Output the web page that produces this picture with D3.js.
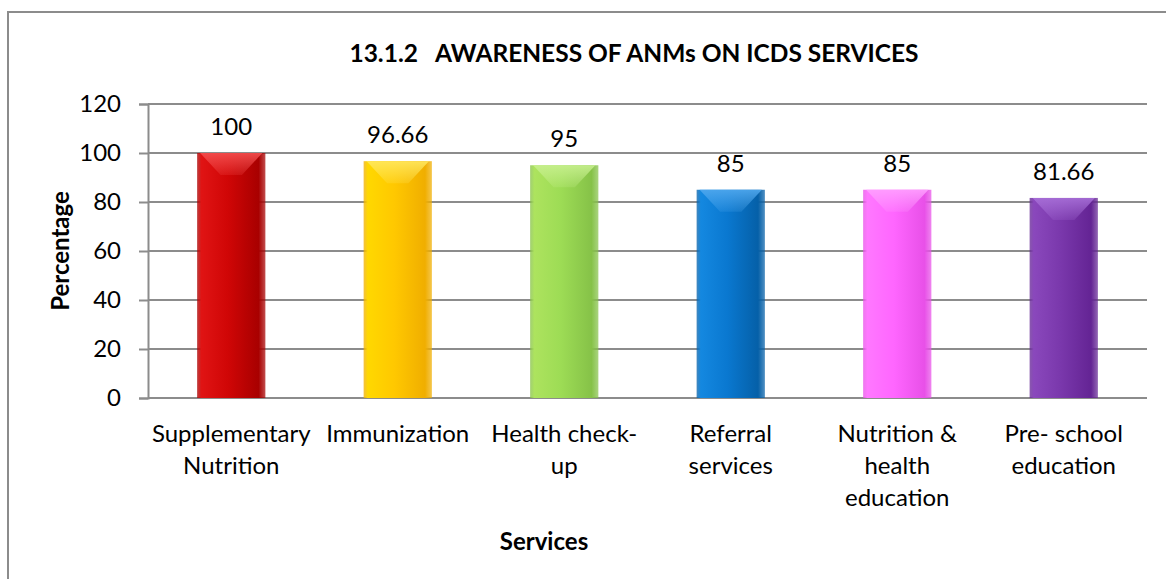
<!DOCTYPE html>
<html>
<head>
<meta charset="utf-8">
<script src="https://cdn.jsdelivr.net/npm/d3@7"></script>
<style>
  body { margin: 0; background: #fff; }
  text { font-family: Lato, "Open Sans", sans-serif; fill: #000; }
</style>
</head>
<body>
<div id="chart"></div>
<script>
// data
var categories = ["Supplementary\nNutrition", "Immunization", "Health check-\nup", "Referral\nservices", "Nutrition &\nhealth\neducation", "Pre- school\neducation"];
var values = [100, 96.66, 95, 85, 85, 81.66];
var valueLabels = ["100", "96.66", "95", "85", "85", "81.66"];
var yTicks = [0, 20, 40, 60, 80, 100, 120];
var barColors = [
  ["#e01414", "#d00606", "#a80000", "#f45050"],
  ["#ffd800", "#ffc800", "#f0ae00", "#ffe860"],
  ["#ade35e", "#9ddc55", "#86c248", "#c8f090"],
  ["#1488e0", "#0a78d0", "#0560a8", "#50a8ee"],
  ["#ff78ff", "#ff66ff", "#e850e8", "#ffa0ff"],
  ["#8a48bc", "#7a38ac", "#642494", "#a870d8"]
];

var W = 1166, H = 579;
var svg = d3.select('#chart').append('svg')
  .attr('width', W)
  .attr('height', H);

// moldura
svg.append('rect')
  .attr('x', 8).attr('y', 12)
  .attr('width', 1200).attr('height', 600)
  .attr('fill', 'none')
  .attr('stroke', '#8c8c8c')
  .attr('stroke-width', 2);

var plotLeft = 148, plotRight = 1147, plotTop = 104, plotBottom = 398;

var x = d3.scaleBand().domain(d3.range(categories.length)).range([plotLeft, plotRight]).paddingInner(0.59).paddingOuter(0.295);
var y = d3.scaleLinear().domain([0, 120]).range([plotBottom, plotTop]);

// gradientes
var defs = svg.append('defs');
barColors.forEach(function(c, i) {
  var g = defs.append('linearGradient').attr('id', 'g' + i).attr('x1', 0).attr('x2', 1).attr('y1', 0).attr('y2', 0);
  g.append('stop').attr('offset', '0%').attr('stop-color', c[2]).attr('stop-opacity', 0.75);
  g.append('stop').attr('offset', '6%').attr('stop-color', c[0]);
  g.append('stop').attr('offset', '45%').attr('stop-color', c[1]);
  g.append('stop').attr('offset', '90%').attr('stop-color', c[2]);
  g.append('stop').attr('offset', '100%').attr('stop-color', c[2]).attr('stop-opacity', 0.7);
  var h = defs.append('linearGradient').attr('id', 'h' + i).attr('x1', 0).attr('x2', 0).attr('y1', 0).attr('y2', 1);
  h.append('stop').attr('offset', '0%').attr('stop-color', c[3]).attr('stop-opacity', 0.9);
  h.append('stop').attr('offset', '100%').attr('stop-color', c[3]).attr('stop-opacity', 0.2);
});

// grade
svg.append('g')
  .selectAll('line').data(yTicks).join('line')
  .attr('x1', plotLeft).attr('x2', plotRight)
  .attr('y1', function(d) { return y(d); })
  .attr('y2', function(d) { return y(d); })
  .attr('stroke', '#8c8c8c')
  .attr('stroke-width', 2);

// eixo y
var yAxis = svg.append('g')
  .attr('transform', 'translate(' + plotLeft + ',0)')
  .call(d3.axisLeft(y).tickValues(yTicks).tickSize(9).tickPadding(18));
yAxis.select('.domain').attr('stroke', '#8c8c8c').attr('stroke-width', 2);
yAxis.selectAll('.tick line').attr('stroke', '#8c8c8c').attr('stroke-width', 2);
yAxis.selectAll('.tick text').attr('font-size', 24).attr('font-family', 'Lato, sans-serif').attr('fill', '#000');

// barras
var bars = svg.append('g').selectAll('g').data(values).join('g');
bars.append('rect')
  .attr('x', function(d, i) { return x(i); })
  .attr('y', function(d) { return y(d); })
  .attr('width', x.bandwidth())
  .attr('height', function(d) { return y(0) - y(d); })
  .attr('fill', function(d, i) { return 'url(#g' + i + ')'; });
// brilho no topo
bars.append('path')
  .attr('d', function(d, i) {
    var x0 = x(i) + 3, x1 = x(i) + x.bandwidth() - 3, y0 = y(d);
    var bw = x.bandwidth();
    return 'M' + x0 + ',' + y0 + 'L' + x1 + ',' + y0 + 'L' + (x1 - bw * 0.3) + ',' + (y0 + 22) +
      'L' + (x0 + bw * 0.3) + ',' + (y0 + 22) + 'Z';
  })
  .attr('fill', function(d, i) { return 'url(#h' + i + ')'; });

// rótulos de valor
svg.append('g').selectAll('text').data(values).join('text')
  .attr('x', function(d, i) { return x(i) + x.bandwidth() / 2; })
  .attr('y', function(d) { return y(d) - 18; })
  .attr('text-anchor', 'middle')
  .attr('font-size', 24)
  .text(function(d, i) { return valueLabels[i]; });

// rótulos das categorias
var cat = svg.append('g').selectAll('text').data(categories).join('text')
  .attr('x', function(d, i) { return x(i) + x.bandwidth() / 2; })
  .attr('y', 442)
  .attr('text-anchor', 'middle')
  .attr('font-size', 24);
cat.selectAll('tspan').data(function(d) { return d.split('\n'); }).join('tspan')
  .attr('x', function() { return d3.select(this.parentNode).attr('x'); })
  .attr('dy', function(d, j) { return j === 0 ? 0 : 32; })
  .text(function(d) { return d; });

// títulos
svg.append('text')
  .attr('x', 634).attr('y', 62)
  .attr('text-anchor', 'middle')
  .attr('font-size', 24.5)
  .attr('font-weight', 'bold')
  .attr('xml:space', 'preserve')
  .text('13.1.2   AWARENESS OF ANMs ON ICDS SERVICES');

svg.append('text')
  .attr('transform', 'translate(69,251) rotate(-90)')
  .attr('text-anchor', 'middle')
  .attr('font-size', 24)
  .attr('font-weight', 'bold')
  .text('Percentage');

svg.append('text')
  .attr('x', 544).attr('y', 550)
  .attr('text-anchor', 'middle')
  .attr('font-size', 24)
  .attr('font-weight', 'bold')
  .text('Services');
</script>
</body>
</html>
